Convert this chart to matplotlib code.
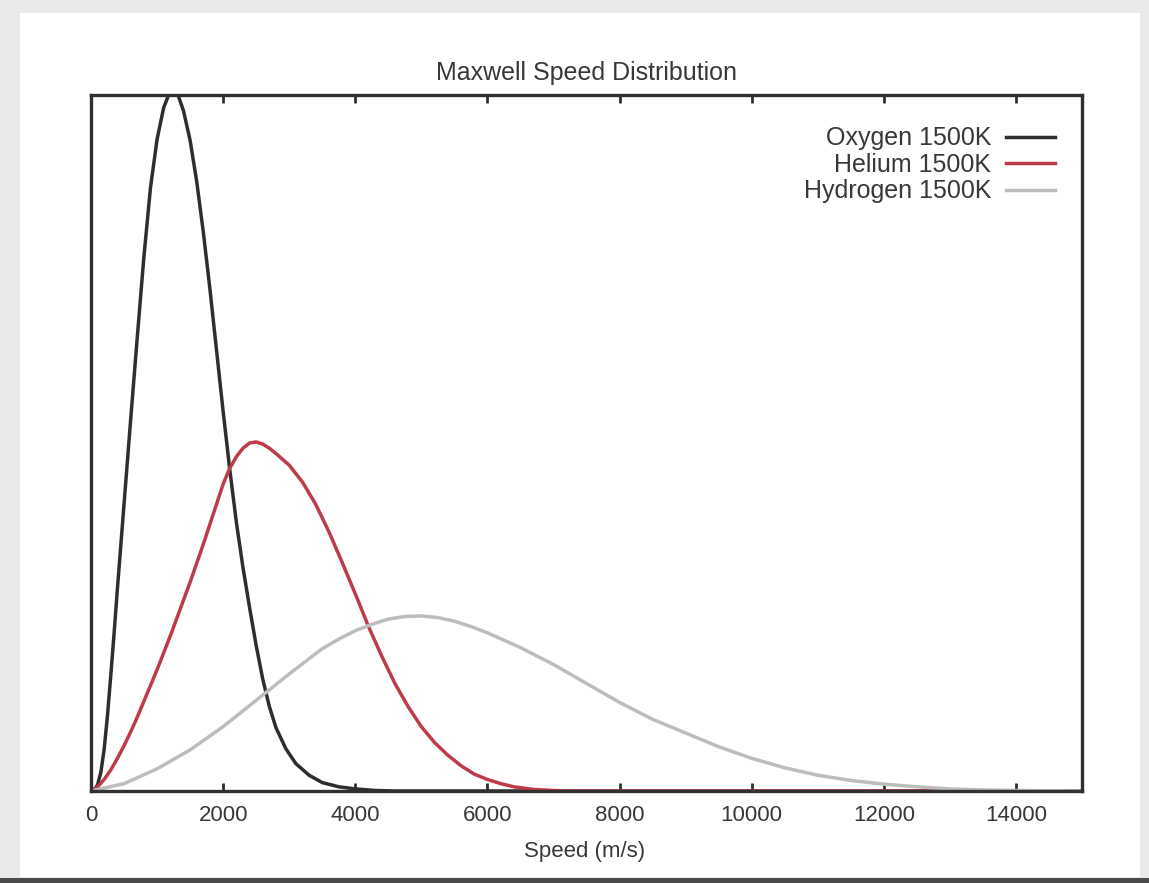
import matplotlib.pyplot as plt
from matplotlib.patches import Rectangle

# values: speed in m/s, density in units of 1e-4 s/m
oxygen_speed = [0, 50, 100, 150, 200, 250, 300, 350, 400, 500, 600, 700, 800, 900, 1000,
                1100, 1200, 1250, 1300, 1400, 1500, 1600, 1700, 1800, 1900, 2000, 2100,
                2200, 2300, 2400, 2500, 2600, 2700, 2800, 2950, 3100, 3300, 3500, 3750,
                4000, 4300, 4600, 15000]
oxygen_density = [0, 0.01, 0.06, 0.18, 0.40, 0.72, 1.10, 1.50, 1.92, 2.72, 3.52, 4.30, 5.06, 5.72, 6.18,
                  6.48, 6.64, 6.67, 6.63, 6.45, 6.17, 5.78, 5.30, 4.76, 4.18, 3.60, 3.05,
                  2.55, 2.12, 1.74, 1.38, 1.06, 0.80, 0.60, 0.40, 0.26, 0.15, 0.08, 0.04,
                  0.02, 0.005, 0, 0]

helium_speed = [0, 100, 200, 300, 400, 500, 600, 700, 800, 900, 1000, 1100, 1200, 1300, 1400,
                1500, 1600, 1700, 1800, 1900, 2000, 2100, 2200, 2300, 2400, 2500, 2600,
                2700, 2800, 3000, 3200, 3400, 3600, 3800, 4000, 4200, 4400, 4600, 4800,
                5000, 5200, 5400, 5600, 5800, 6000, 6200, 6400, 6700, 7000, 7300, 15000]
helium_density = [0, 0.04, 0.11, 0.20, 0.31, 0.43, 0.56, 0.70, 0.85, 1.00, 1.15, 1.31, 1.47, 1.64, 1.81,
                  1.98, 2.16, 2.34, 2.53, 2.72, 2.91, 3.06, 3.17, 3.25, 3.30, 3.31, 3.29,
                  3.25, 3.20, 3.09, 2.93, 2.72, 2.46, 2.17, 1.87, 1.56, 1.28, 1.02, 0.80,
                  0.61, 0.46, 0.34, 0.24, 0.16, 0.11, 0.07, 0.04, 0.015, 0.005, 0, 0]

hydrogen_speed = [0, 500, 1000, 1500, 2000, 2500, 3000, 3500, 3750, 4000, 4250, 4500, 4750,
                  5000, 5250, 5500, 5750, 6000, 6250, 6500, 7000, 7500, 8000, 8500, 9000,
                  9500, 10000, 10500, 11000, 11500, 12000, 12500, 13000, 13500, 14000, 15000]
hydrogen_density = [0, 0.07, 0.21, 0.39, 0.61, 0.86, 1.11, 1.35, 1.44, 1.52, 1.58, 1.63, 1.655,
                    1.66, 1.645, 1.61, 1.56, 1.50, 1.43, 1.36, 1.20, 1.02, 0.84, 0.68, 0.55,
                    0.42, 0.31, 0.22, 0.15, 0.10, 0.065, 0.04, 0.02, 0.01, 0.005, 0]

labels = ['Oxygen 1500K', 'Helium 1500K', 'Hydrogen 1500K']
colors = ['#2e2e2e', '#bd3b4b', '#bdbdbd']
xticks = [0, 2000, 4000, 6000, 8000, 10000, 12000, 14000]

plt.rcParams['font.family'] = ['Liberation Sans', 'DejaVu Sans']
txt = '#383838'

W, H = 1149, 883
fig = plt.figure(figsize=(W / 100, H / 100), dpi=100, facecolor='#e9ebeb')
# white paper + dark strip at the bottom, like the photo
fig.patches.append(Rectangle((20 / W, 6 / H), 1120 / W, 864 / H, transform=fig.transFigure,
                             facecolor='white', edgecolor='none', zorder=-5))
fig.patches.append(Rectangle((0, 0), 1, 5 / H, transform=fig.transFigure,
                             facecolor='#4a4a4a', edgecolor='none', zorder=-5))

ax = fig.add_axes([91 / W, 92 / H, 991 / W, 696 / H])
ax.set_zorder(2)

series = [(oxygen_speed, oxygen_density), (helium_speed, helium_density),
          (hydrogen_speed, hydrogen_density)]
for (sx, sy), lab, col in zip(series, labels, colors):
    ax.plot(sx, sy, color=col, lw=2.5, label=lab, solid_joinstyle='round')

ax.set_xlim(0, 15000)
ax.set_ylim(0, 6.6)
ax.set_xticks(xticks)
ax.set_yticks([])
ax.tick_params(axis='x', direction='in', top=True, length=6, width=2, color='#303030',
               labelsize=16, labelcolor=txt, pad=10)
for s in ax.spines.values():
    s.set_linewidth(2.4)
    s.set_color('#303030')

fig.text(586 / W, 1 - 73 / H, 'Maxwell Speed Distribution', ha='center', va='center',
         fontsize=18, color=txt)
fig.text(585 / W, 1 - 852 / H, 'Speed (m/s)', ha='center', va='center',
         fontsize=16, color=txt)

leg = ax.legend(loc='upper right', bbox_to_anchor=(0.973, 0.955), markerfirst=False,
                frameon=False, fontsize=18, handlelength=1.95, handletextpad=0.6,
                labelspacing=0.1, borderpad=0, borderaxespad=0)
for t in leg.get_texts():
    t.set_color(txt)

fig.savefig('out.png', dpi=100, facecolor=fig.get_facecolor())
